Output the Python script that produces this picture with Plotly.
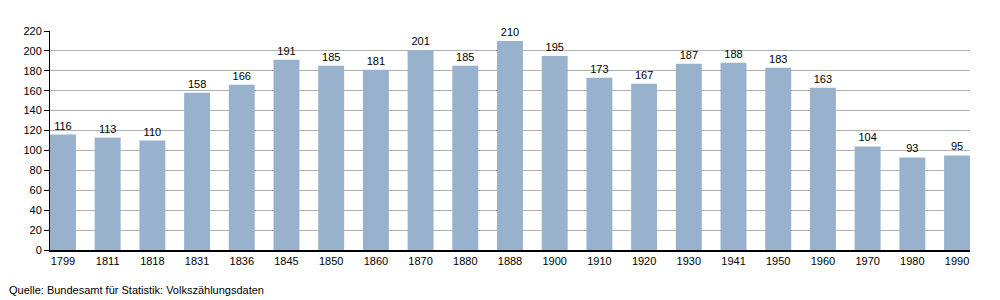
import plotly.graph_objects as go

years = ["1799", "1811", "1818", "1831", "1836", "1845", "1850", "1860", "1870", "1880", "1888",
         "1900", "1910", "1920", "1930", "1941", "1950", "1960", "1970", "1980", "1990"]
values = [116, 113, 110, 158, 166, 191, 185, 181, 201, 185, 210,
          195, 173, 167, 187, 188, 183, 163, 104, 93, 95]
y_ticks = list(range(0, 221, 20))
source = "Quelle: Bundesamt für Statistik: Volkszählungsdaten"

fig = go.Figure(go.Bar(
    x=list(range(len(years))), y=values,
    width=0.58,
    marker=dict(color="#98b1cc", line=dict(width=0)),
    text=[str(v) for v in values], textposition="outside",
    textfont=dict(size=11, color="#000000"),
    outsidetextfont=dict(size=11, color="#000000"),
    cliponaxis=False,
))

fig.update_layout(
    width=1000, height=300,
    margin=dict(l=50, r=30, t=31, b=50),
    plot_bgcolor="white", paper_bgcolor="white",
    font=dict(family="Liberation Sans, Arial, sans-serif", size=11, color="#000"),
    showlegend=False,
    xaxis=dict(
        range=[-0.29, len(years) - 1 + 0.29],
        tickmode="array", tickvals=list(range(len(years))), ticktext=years,
        showgrid=False, showline=True, linecolor="#000", linewidth=1.5,
        ticks="", ticklen=2, zeroline=False, fixedrange=True,
    ),
    yaxis=dict(
        range=[0, 220], tickmode="array", tickvals=y_ticks,
        showgrid=True, gridcolor="#b0b0b0", gridwidth=1,
        showline=True, linecolor="#000", linewidth=1,
        ticks="outside", ticklen=5, tickcolor="#000",
        zeroline=False, fixedrange=True,
    ),
    annotations=[dict(
        text=source, xref="paper", yref="paper", x=-50/920, y=-0.146,
        xanchor="left", yanchor="top", showarrow=False,
        font=dict(size=11, color="#000"), xshift=7,
    )],
)

fig.write_html("out.html")
